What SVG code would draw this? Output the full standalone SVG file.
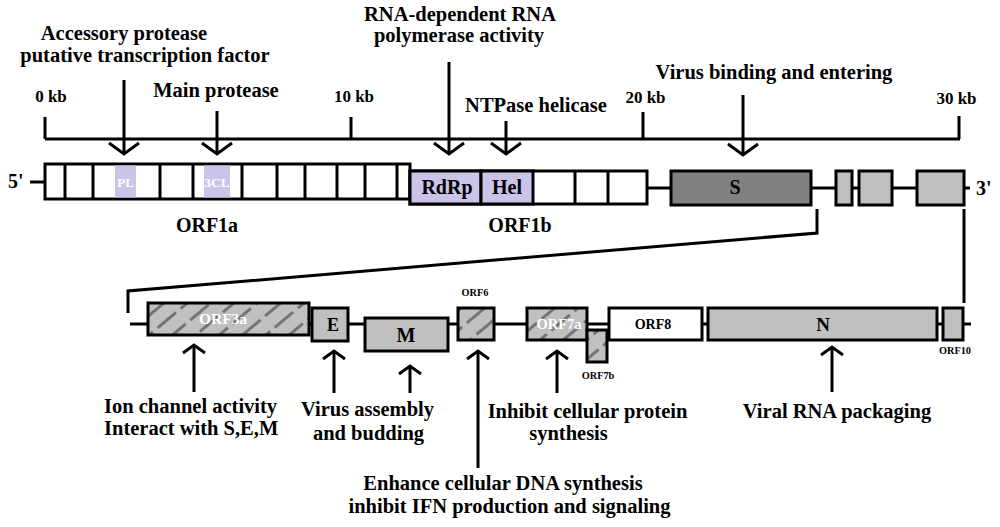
<svg xmlns="http://www.w3.org/2000/svg" width="1000" height="527" viewBox="0 0 1000 527">
<defs>
  <style>
    text { font-family: "Liberation Serif", "Times New Roman", serif; font-weight: bold; fill: #000; }
    .lbl { font-size: 20.5px; text-anchor: middle; }
    .kb { font-size: 17px; text-anchor: middle; }
    .inbox { font-size: 20px; text-anchor: middle; }
    .small { font-size: 10.3px; text-anchor: middle; }
    .wt { fill: #fff; text-anchor: middle; }
    .box { stroke: #000; stroke-width: 3; }
    .white { fill: #fff; }
    .lav { fill: #cbc3e8; }
    .dark { fill: #808080; }
    .grey { fill: #c0c0c0; }
    .hatch { fill: url(#hatch); }
    .ln { stroke: #000; stroke-width: 3; fill: none; }
  </style>
  <pattern id="hatch" patternUnits="userSpaceOnUse" width="30" height="15" patternTransform="rotate(-40)">
    <rect width="30" height="15" fill="#c0c0c0"/>
    <line x1="0" y1="7.5" x2="30" y2="7.5" stroke="#747474" stroke-width="3" stroke-dasharray="24 6"/>
  </pattern>
  <marker id="downHead" markerUnits="userSpaceOnUse" markerWidth="40" markerHeight="40" viewBox="-20 -20 40 40" refX="0" refY="0" orient="auto">
    <path d="M-11,-15 L0,0 L-11,15" fill="none" stroke="#000" stroke-width="3"/>
  </marker>
  <marker id="upHead" markerUnits="userSpaceOnUse" markerWidth="30" markerHeight="30" viewBox="-15 -15 30 30" refX="0" refY="0" orient="auto">
    <path d="M-8,-11 L0,0 L-8,11" fill="none" stroke="#000" stroke-width="3"/>
  </marker>
</defs>

<rect width="1000" height="527" fill="#fff"/>

<!-- connectors: axis, backbone lines, bracket, arrows -->
<g id="connectors">
  <path class="ln" d="M45,139 H960 M45,117 V139 M351,117 V139 M643,112 V139 M959,116 V139"/>
  <path class="ln" d="M30,182 H45"/>
  <path class="ln" d="M647,188 H970"/>
  <path class="ln" d="M817,209 V233 L128,291 V313"/>
  <path class="ln" d="M964,209 V303"/>
  <path class="ln" d="M130,324 H971"/>
  <!-- top arrows -->
  <line class="ln" x1="124" y1="80" x2="124" y2="154" marker-end="url(#downHead)"/>
  <line class="ln" x1="217" y1="111" x2="217" y2="154" marker-end="url(#downHead)"/>
  <line class="ln" x1="449" y1="62" x2="449" y2="154" marker-end="url(#downHead)"/>
  <line class="ln" x1="506" y1="121" x2="506" y2="154" marker-end="url(#downHead)"/>
  <line class="ln" x1="743" y1="95" x2="743" y2="155" marker-end="url(#downHead)"/>
  <!-- bottom arrows -->
  <line class="ln" x1="194" y1="392" x2="194" y2="345" marker-end="url(#upHead)"/>
  <line class="ln" x1="334" y1="393" x2="334" y2="351" marker-end="url(#upHead)"/>
  <line class="ln" x1="410" y1="393" x2="410" y2="366" marker-end="url(#upHead)"/>
  <line class="ln" x1="478" y1="468" x2="478" y2="351" marker-end="url(#upHead)"/>
  <line class="ln" x1="557" y1="393" x2="557" y2="351" marker-end="url(#upHead)"/>
  <line class="ln" x1="832" y1="392" x2="832" y2="347" marker-end="url(#upHead)"/>
</g>

<!-- ORF1a -->
<g id="orf1a">
  <rect class="box white" x="45" y="164" width="365" height="35"/>
  <rect class="lav" x="115" y="165.5" width="21" height="32"/>
  <rect class="lav" x="204" y="165.5" width="26" height="32"/>
  <path class="ln" d="M65,164 V199 M93,164 V199 M160,164 V199 M193,164 V199 M242,164 V199 M277,164 V199 M305,164 V199 M337,164 V199 M365,164 V199 M397,164 V199"/>
  <text class="wt" x="125.5" y="187" style="font-size:13px">PL</text>
  <text class="wt" x="217" y="187" style="font-size:13.5px">3CL</text>
</g>
<!-- ORF1b -->
<g id="orf1b">
  <rect class="box white" x="410" y="171" width="237" height="33"/>
  <rect class="box lav" x="410" y="171" width="71" height="33"/>
  <rect class="box lav" x="481" y="171" width="52" height="33"/>
  <path class="ln" d="M575,171 V204 M608,171 V204"/>
  <text class="inbox" x="447" y="194">RdRp</text>
  <text class="inbox" x="507" y="194">Hel</text>
</g>
<g id="gene-S">
  <rect class="box dark" x="671" y="171" width="140" height="34"/>
  <text class="inbox" x="735" y="194">S</text>
</g>
<g id="gene-small1"><rect class="box grey" x="836" y="171" width="16" height="34"/></g>
<g id="gene-small2"><rect class="box grey" x="859" y="171" width="33" height="34"/></g>
<g id="gene-small3"><rect class="box grey" x="917" y="171" width="47" height="34"/></g>

<!-- lower row -->
<g id="orf3a">
  <rect class="box hatch" x="148" y="303" width="161" height="32"/>
  <text class="wt" x="223" y="324" style="font-size:15.5px">ORF3a</text>
</g>
<g id="gene-E">
  <rect class="box grey" x="312" y="308" width="36" height="33"/>
  <text class="inbox" x="333" y="331" style="font-size:18px">E</text>
</g>
<g id="gene-M">
  <rect class="box grey" x="365" y="318" width="83" height="33"/>
  <text class="inbox" x="406" y="342">M</text>
</g>
<g id="orf6">
  <rect class="box hatch" x="458" y="308" width="36" height="32"/>
  <text class="small" x="475" y="296">ORF6</text>
</g>
<g id="orf7a">
  <rect class="box hatch" x="527" y="308" width="60" height="32"/>
  <text class="wt" x="559" y="329" style="font-size:14.5px">ORF7a</text>
</g>
<g id="orf7b">
  <rect class="box hatch" x="587" y="330" width="20" height="32"/>
  <text class="small" x="598" y="379">ORF7b</text>
</g>
<g id="orf8">
  <rect class="box white" x="609" y="308" width="93" height="32"/>
  <text class="inbox" x="653" y="329" style="font-size:14px">ORF8</text>
</g>
<g id="gene-N">
  <rect class="box grey" x="708" y="308" width="229" height="32"/>
  <text class="inbox" x="823" y="331" style="font-size:19px">N</text>
</g>
<g id="orf10">
  <rect class="box grey" x="943" y="308" width="20" height="32"/>
  <text class="small" x="955" y="354">ORF10</text>
</g>

<!-- labels -->
<g id="labels">
  <text class="lbl" x="124" y="40">Accessory protease</text>
  <text class="lbl" x="145" y="62">putative transcription factor</text>
  <text class="lbl" x="216" y="97">Main protease</text>
  <text class="lbl" x="460" y="21">RNA-dependent RNA</text>
  <text class="lbl" x="459" y="42">polymerase activity</text>
  <text class="lbl" x="536" y="112">NTPase helicase</text>
  <text class="lbl" x="774" y="79">Virus binding and entering</text>
  <text class="kb" x="51" y="102">0 kb</text>
  <text class="kb" x="354" y="102">10 kb</text>
  <text class="kb" x="645.5" y="103">20 kb</text>
  <text class="kb" x="956.5" y="104">30 kb</text>
  <text x="8" y="188" style="font-size:20px">5'</text>
  <text x="976" y="195" style="font-size:20px">3'</text>
  <text class="inbox" x="207" y="232">ORF1a</text>
  <text class="inbox" x="520" y="232">ORF1b</text>
  <text x="104" y="413" style="font-size:20.5px">Ion channel activity</text>
  <text x="104" y="435" style="font-size:20.5px">Interact with S,E,M</text>
  <text class="lbl" x="367.5" y="416">Virus assembly</text>
  <text class="lbl" x="368.5" y="440">and budding</text>
  <text class="lbl" x="587.5" y="418">Inhibit cellular protein</text>
  <text class="lbl" x="568.5" y="440">synthesis</text>
  <text class="lbl" x="837" y="418">Viral RNA packaging</text>
  <text class="lbl" x="503" y="490">Enhance cellular DNA synthesis</text>
  <text class="lbl" x="509.5" y="513">inhibit IFN production and signaling</text>
</g>
</svg>
